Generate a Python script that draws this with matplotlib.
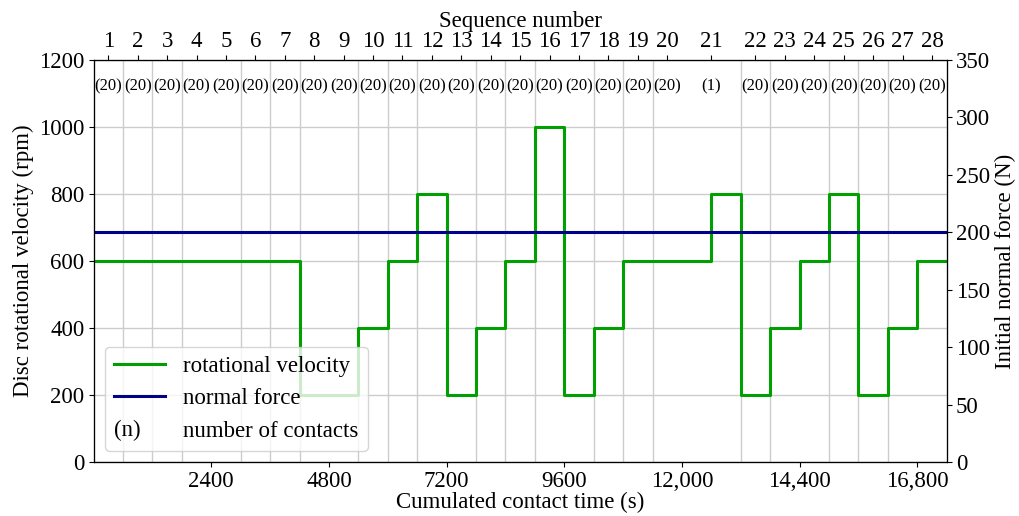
import numpy as np
import matplotlib
matplotlib.use('Agg')
import matplotlib.pyplot as plt
import matplotlib.text as mtext
from matplotlib.legend_handler import HandlerBase

plt.rcParams['font.family'] = ['Liberation Serif', 'DejaVu Serif']

# sequences: duration (s) and number of contacts
seq_num = list(range(1, 29))
seq_duration = [600] * 20 + [1200] + [600] * 7
seq_contacts = [20] * 20 + [1] + [20] * 7

# rotational velocity steps (start time in s, rpm)
vel_time = [0, 4200, 5400, 6000, 6600, 7200, 7800, 8400, 9000, 9600,
            10200, 10800, 12600, 13200, 13800, 14400, 15000, 15600,
            16200, 16800, 17400]
vel_rpm = [600, 200, 400, 600, 800, 200, 400, 600, 1000, 200,
           400, 600, 800, 200, 400, 600, 800, 200, 400, 600]

# initial normal force (N)
force = 200

xtick_vals = [2400, 4800, 7200, 9600, 12000, 14400, 16800]
xtick_labels = ['2400', '4800', '7200', '9600', '12,000', '14,400', '16,800']

FS = 16.5


class NoteHandle(object):
    def __init__(self, text):
        self.text = text


class NoteHandler(HandlerBase):
    # draws "(n)" in place of a line in the legend
    def create_artists(self, legend, orig_handle, xdescent, ydescent,
                       width, height, fontsize, trans):
        t = mtext.Text(x=-xdescent, y=(height - ydescent) / 2.0 - 1,
                       text=orig_handle.text, fontsize=fontsize,
                       va='center', ha='left', transform=trans)
        return [t]


edges = np.concatenate([[0], np.cumsum(seq_duration)])
centers = (edges[:-1] + edges[1:]) / 2.0
xmax = edges[-1]

fig = plt.figure(figsize=(10.19, 5.16), dpi=100)
ax = fig.add_axes([0.0919, 0.104, 0.8371, 0.780])

# velocity
v_step = vel_rpm + [vel_rpm[-1]]
l1, = ax.step(vel_time, v_step, where='post', color='#00a000', lw=2.2,
              label='rotational velocity', zorder=3)
ax.set_xlim(0, xmax)
ax.set_ylim(0, 1200)
ax.set_yticks(np.arange(0, 1201, 200))
ax.set_xticks(xtick_vals)
ax.set_xticklabels(xtick_labels)
ax.set_xticks(edges[1:-1], minor=True)
ax.tick_params(axis='x', which='minor', length=0)
ax.grid(which='minor', axis='x', color='#cccccc', lw=1)
ax.grid(which='major', axis='y', color='#cccccc', lw=1)
ax.set_xlabel('Cumulated contact time (s)', fontsize=FS, labelpad=0)
ax.set_ylabel('Disc rotational velocity (rpm)', fontsize=FS, labelpad=4)
ax.tick_params(labelsize=FS, pad=3)

# normal force
ax2 = ax.twinx()
l2, = ax2.plot([0, xmax], [force, force], color='#00008b', lw=2.2,
               label='normal force')
ax2.set_ylim(0, 350)
ax2.set_yticks(np.arange(0, 351, 50))
ax2.set_ylabel('Initial normal force (N)', fontsize=FS, labelpad=4)
ax2.tick_params(labelsize=FS, pad=3)

# sequence numbers on top
ax3 = ax2.twiny()
ax3.set_xlim(0, xmax)
ax3.set_xticks(centers)
ax3.set_xticklabels([str(s) for s in seq_num])
ax3.tick_params(labelsize=FS, pad=2)
ax3.set_xlabel('Sequence number', fontsize=FS, labelpad=3)

for c, n in zip(centers, seq_contacts):
    ax.text(c, 1120, '(%d)' % n, ha='center', va='center', fontsize=12)

note = NoteHandle('(n)')
leg = ax3.legend([l1, l2, note], ['rotational velocity', 'normal force',
                                  'number of contacts'],
                 handler_map={NoteHandle: NoteHandler()},
                 loc='lower left', fontsize=FS, handlelength=2.2,
                 handletextpad=0.8)

plt.savefig('out.png', dpi=100)
